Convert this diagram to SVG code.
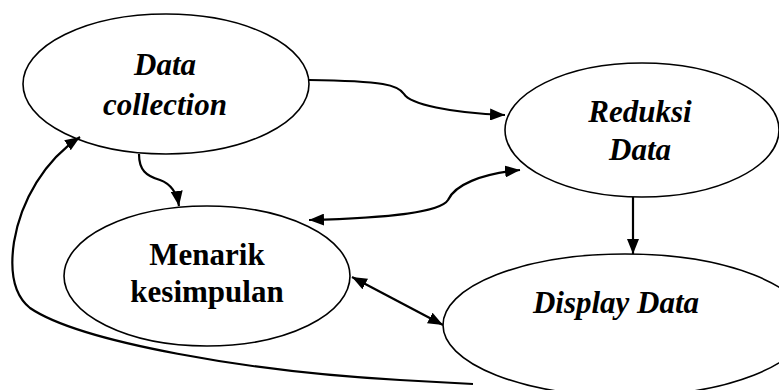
<svg xmlns="http://www.w3.org/2000/svg" width="779" height="390" viewBox="0 0 779 390">
<style>
.node ellipse{fill:#fff;stroke:#000;stroke-width:1.6}
.lbl{font-family:"Liberation Serif","Times New Roman",serif;font-size:31px;font-weight:bold;fill:#000;text-anchor:middle}
.it{font-style:italic}
.conn path{fill:none;stroke:#000;stroke-width:2.2}
</style>
<defs>
<marker id="ah" markerUnits="userSpaceOnUse" markerWidth="16" markerHeight="12" refX="15" refY="6" orient="auto-start-reverse">
<path d="M0,0 L15,6 L0,12 z" fill="#000"/>
</marker>
</defs>
<rect width="779" height="390" fill="#fff"/>
<g id="n-collection" class="node">
<ellipse cx="166" cy="84" rx="143" ry="70"/>
<text class="lbl it" x="165" y="75">Data</text>
<text class="lbl it" x="165" y="115">collection</text>
</g>
<g id="n-reduksi" class="node">
<ellipse cx="642" cy="130" rx="137" ry="67"/>
<text class="lbl it" x="640" y="122">Reduksi</text>
<text class="lbl it" x="640" y="160">Data</text>
</g>
<g id="n-menarik" class="node">
<ellipse cx="207" cy="276" rx="143" ry="70"/>
<text class="lbl" x="207" y="265">Menarik</text>
<text class="lbl" x="207" y="302">kesimpulan</text>
</g>
<g id="n-display" class="node">
<ellipse cx="625" cy="325" rx="182" ry="71"/>
<text class="lbl it" x="616" y="313">Display Data</text>
</g>
<g id="connectors" class="conn">
<path d="M309,80 C385,81 398,85 404,94 C410,104 450,113 505,115" marker-end="url(#ah)"/>
<path d="M139,154 C139,170 146,176 160,180 C171,184 177,193 179,206" marker-end="url(#ah)"/>
<path d="M309,220 C385,218 440,213 448,200 C455,185 480,174 520,170" marker-start="url(#ah)" marker-end="url(#ah)"/>
<path d="M633,197 L633,254" marker-end="url(#ah)"/>
<path d="M352,277 L443,325" marker-start="url(#ah)" marker-end="url(#ah)"/>
<path d="M473,384 L400,380 C250,372 80,342 30,308 C10,292 11,262 14,242 C21,200 45,160 80,137" marker-end="url(#ah)"/>
</g>
</svg>
